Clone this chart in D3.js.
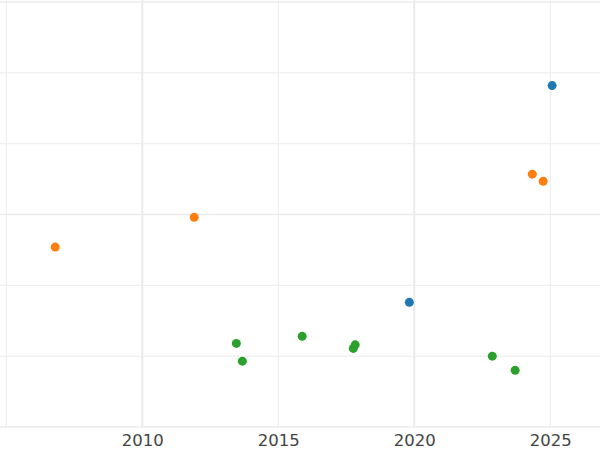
<!DOCTYPE html>
<html><head><meta charset="utf-8">
<script src="https://cdn.jsdelivr.net/npm/d3@7"></script>
<style>body{margin:0;background:#fff}</style></head>
<body><svg id="c" width="600" height="450"></svg>
<script>
const seriesNames = ["blue","orange","green"];
const seriesColors = ["#1f77b4","#ff7f0e","#2ca02c"];
const blueX = [2025.07, 2019.82];
const blueY = [4.82, 1.76];
const orangeX = [2006.8, 2011.91, 2024.34, 2024.74];
const orangeY = [2.54, 2.96, 3.57, 3.47];
const greenX = [2013.46, 2013.68, 2015.88, 2017.76, 2017.83, 2022.87, 2023.71];
const greenY = [1.18, 0.93, 1.28, 1.11, 1.16, 1.0, 0.80];
const xTicks = [2010, 2015, 2020, 2025];
const xGrid = [2005, 2010, 2015, 2020, 2025];
const yGrid = [0, 1, 2, 3, 4, 5, 6];

const svg = d3.select("#c");
const x = d3.scaleLinear().domain([2004.77, 2026.83]).range([0, 600]);
const y = d3.scaleLinear().domain([0, 6]).range([427, 2]);

svg.append("g").selectAll("line").data(yGrid).join("line")
  .attr("x1", 0).attr("x2", 600).attr("y1", d => y(d)).attr("y2", d => y(d))
  .attr("stroke", "#ebebeb").attr("stroke-width", d => d % 3 === 0 ? 1.6 : 1);
svg.append("g").selectAll("line").data(xGrid).join("line")
  .attr("x1", d => x(d)).attr("x2", d => x(d)).attr("y1", 0).attr("y2", 427)
  .attr("stroke", "#ebebeb").attr("stroke-width", d => d % 10 === 0 ? 2 : 1);

const ax = svg.append("g").attr("transform", "translate(0,427)")
  .call(d3.axisBottom(x).tickValues(xTicks).tickFormat(d3.format("d")).tickSize(0).tickPadding(7));
ax.select(".domain").remove();
ax.selectAll("text").attr("font-family", "DejaVu Sans").attr("font-size", 16.5).attr("fill", "#444");

const sets = [[blueX, blueY], [orangeX, orangeY], [greenX, greenY]];
sets.forEach(([xs, ys], i) => {
  svg.append("g").selectAll("circle").data(xs.map((v, j) => [v, ys[j]])).join("circle")
    .attr("cx", d => x(d[0])).attr("cy", d => y(d[1])).attr("r", 4.5)
    .attr("fill", seriesColors[i]);
});
</script></body></html>
